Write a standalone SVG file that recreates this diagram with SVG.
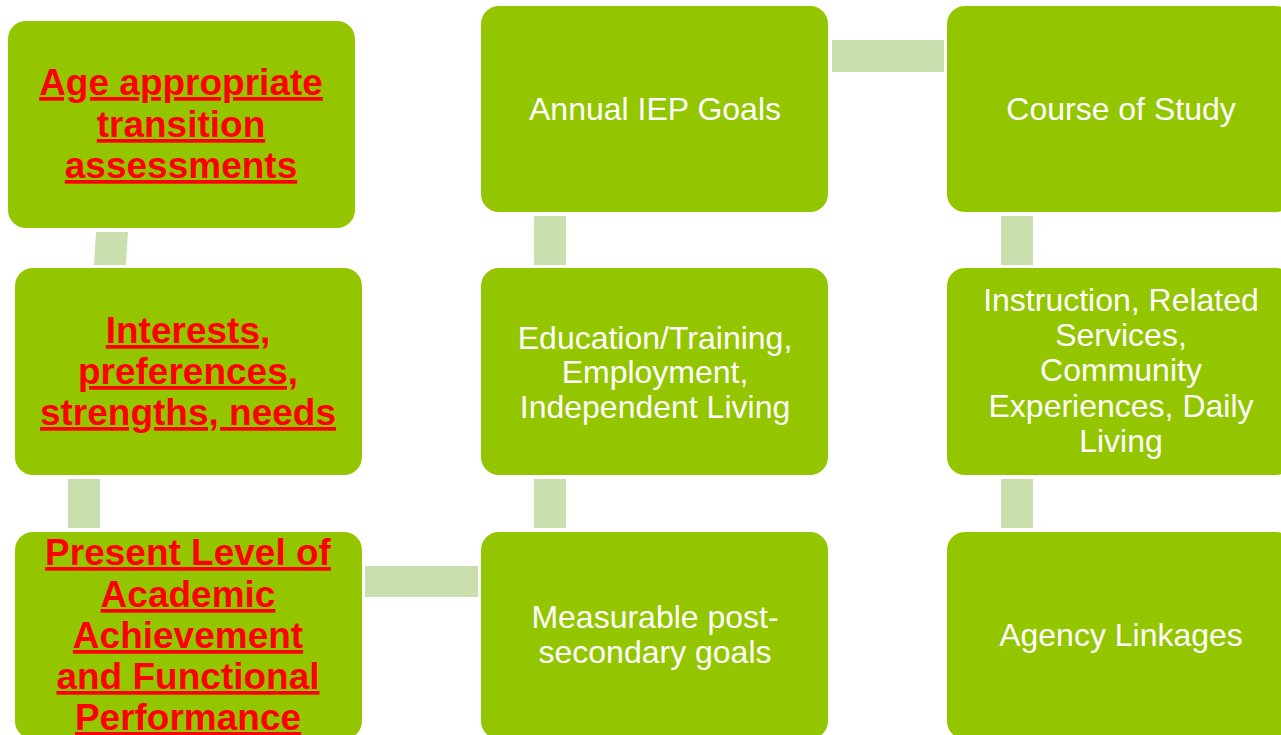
<svg xmlns="http://www.w3.org/2000/svg" width="1281" height="735" viewBox="0 0 1281 735">
  <style>
    .box { fill: #94C600; }
    .link { fill: #C9DFAE; }
    .lbl { font-family: "Liberation Sans", Arial, sans-serif; font-size: 32px; fill: #FFFFFF; text-anchor: middle; }
    .key { font-family: "Liberation Sans", Arial, sans-serif; font-size: 37px; font-weight: bold; fill: #FF0000; text-anchor: middle; text-decoration: underline; }
  </style>
  <rect width="1281" height="735" fill="#FFFFFF"/>

  <!-- connectors -->
  <g id="connectors">
    <polygon class="link" points="96,232 128,232 126,265 94,265"/>
    <rect class="link" x="68" y="479" width="32" height="49"/>
    <rect class="link" x="365" y="566" width="113" height="31"/>
    <rect class="link" x="534" y="479" width="32" height="49"/>
    <rect class="link" x="534" y="216" width="32" height="49"/>
    <rect class="link" x="832" y="40" width="112" height="32"/>
    <rect class="link" x="1001" y="216" width="32" height="49"/>
    <rect class="link" x="1001" y="479" width="32" height="49"/>
  </g>

  <g id="age-assessments">
    <rect class="box" x="8" y="21" width="347" height="207" rx="18"/>
    <text class="key" x="181" y="95">Age appropriate</text>
    <text class="key" x="181" y="137">transition</text>
    <text class="key" x="181" y="178">assessments</text>
  </g>

  <g id="interests">
    <rect class="box" x="15" y="268" width="347" height="207" rx="18"/>
    <text class="key" x="188" y="343">Interests,</text>
    <text class="key" x="188" y="384">preferences,</text>
    <text class="key" x="188" y="425">strengths, needs</text>
  </g>

  <g id="present-level">
    <rect class="box" x="15" y="532" width="347" height="207" rx="18"/>
    <text class="key" x="188" y="565">Present Level of</text>
    <text class="key" x="188" y="607">Academic</text>
    <text class="key" x="188" y="648">Achievement</text>
    <text class="key" x="188" y="689">and Functional</text>
    <text class="key" x="188" y="730">Performance</text>
  </g>

  <g id="annual-goals">
    <rect class="box" x="481" y="6" width="347" height="206" rx="18"/>
    <text class="lbl" x="655" y="120">Annual IEP Goals</text>
  </g>

  <g id="education">
    <rect class="box" x="481" y="268" width="347" height="207" rx="18"/>
    <text class="lbl" x="655" y="349">Education/Training,</text>
    <text class="lbl" x="655" y="383">Employment,</text>
    <text class="lbl" x="655" y="418">Independent Living</text>
  </g>

  <g id="postsecondary-goals">
    <rect class="box" x="481" y="532" width="347" height="207" rx="18"/>
    <text class="lbl" x="655" y="628">Measurable post-</text>
    <text class="lbl" x="655" y="663">secondary goals</text>
  </g>

  <g id="course-of-study">
    <rect class="box" x="947" y="6" width="347" height="206" rx="18"/>
    <text class="lbl" x="1121" y="120">Course of Study</text>
  </g>

  <g id="instruction">
    <rect class="box" x="947" y="268" width="347" height="207" rx="18"/>
    <text class="lbl" x="1121" y="311">Instruction, Related</text>
    <text class="lbl" x="1121" y="346">Services,</text>
    <text class="lbl" x="1121" y="381">Community</text>
    <text class="lbl" x="1121" y="417">Experiences, Daily</text>
    <text class="lbl" x="1121" y="452">Living</text>
  </g>

  <g id="agency-linkages">
    <rect class="box" x="947" y="532" width="347" height="207" rx="18"/>
    <text class="lbl" x="1121" y="646">Agency Linkages</text>
  </g>
</svg>
